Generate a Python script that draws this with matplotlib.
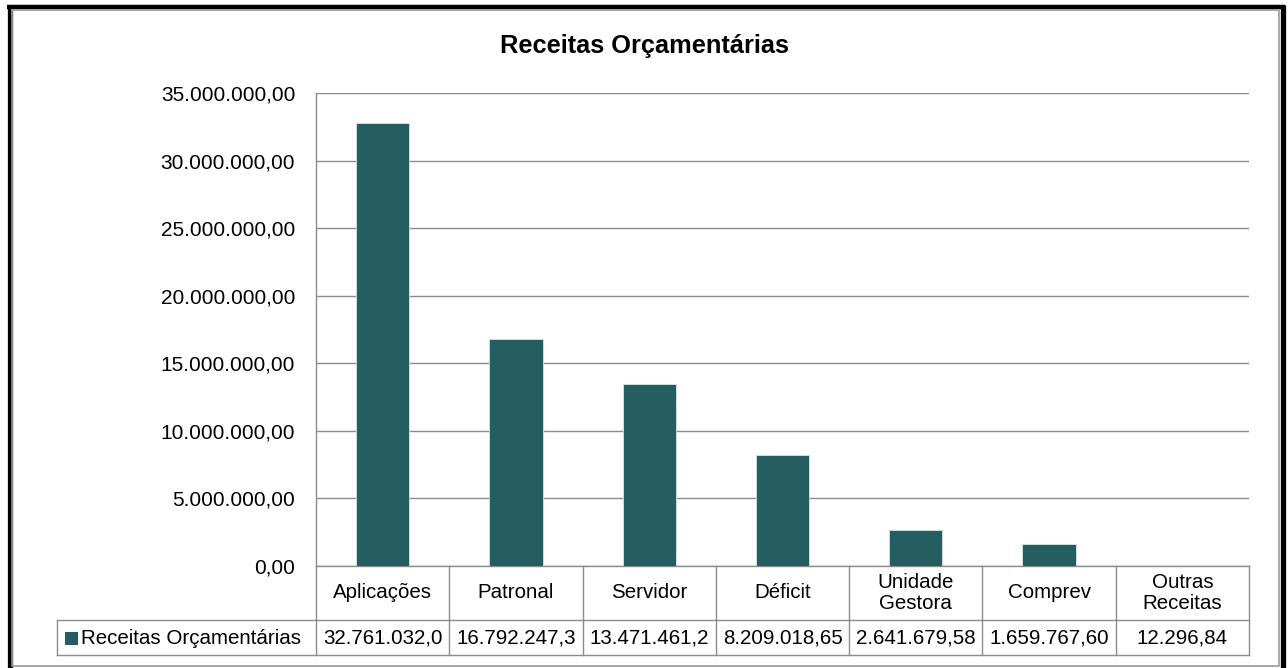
import matplotlib
matplotlib.use("Agg")
import matplotlib.pyplot as plt
from matplotlib.patches import Rectangle
from matplotlib.lines import Line2D
from matplotlib.ticker import FuncFormatter
import matplotlib.transforms as mtransforms

plt.rcParams['font.family'] = ['Liberation Sans', 'DejaVu Sans']

title = "Receitas Orçamentárias"
series_name = "Receitas Orçamentárias"
categories = ["Aplicações", "Patronal", "Servidor", "Déficit", "Unidade\nGestora", "Comprev", "Outras\nReceitas"]
values = [32761032.0, 16792247.3, 13471461.2, 8209018.65, 2641679.58, 1659767.60, 12296.84]
value_labels = ["32.761.032,0", "16.792.247,3", "13.471.461,2", "8.209.018,65", "2.641.679,58", "1.659.767,60", "12.296,84"]
yticks = [0, 5e6, 10e6, 15e6, 20e6, 25e6, 30e6, 35e6]

BAR = '#245E60'
GRID = '#8C8C8C'
W, H = 1288, 668

fig = plt.figure(figsize=(W / 100, H / 100), dpi=100)

def fx(px):
    return px / W

def fy(py):
    return 1 - py / H

# outer frame
fig.patches.append(Rectangle((0, 0), 1, 1, transform=fig.transFigure, facecolor='white', edgecolor='none', zorder=-10))
fig.add_artist(Line2D([fx(9.5), fx(9.5)], [fy(5), fy(668)], color='black', lw=3.8, solid_capstyle='butt'))
fig.add_artist(Line2D([fx(7), fx(1285)], [fy(7), fy(7)], color='black', lw=3.2, solid_capstyle='butt'))
fig.add_artist(Line2D([fx(1282.5), fx(1282.5)], [fy(5), fy(668)], color='black', lw=3.8, solid_capstyle='butt'))
# inner gray frame
fig.add_artist(Line2D([fx(12.5), fx(1278.5), fx(1278.5), fx(12.5), fx(12.5)],
                      [fy(9.5), fy(9.5), fy(665.5), fy(665.5), fy(9.5)], color='#9A9A9A', lw=1.2))

L, R, T, B = 316, 1249, 93, 566
ax = fig.add_axes([fx(L), fy(B), fx(R) - fx(L), fy(T) - fy(B)])
x = list(range(len(categories)))
ax.bar(x, values, width=0.4, color=BAR, edgecolor='#D6E6E8', linewidth=0.6, zorder=3)
ax.set_xlim(-0.5, len(categories) - 0.5)
ax.set_ylim(0, 35e6)
ax.set_yticks(yticks)

def brfmt(v, pos=None):
    s = f"{v:,.2f}"
    return s.replace(',', 'X').replace('.', ',').replace('X', '.')

ax.yaxis.set_major_formatter(FuncFormatter(brfmt))
ax.tick_params(axis='y', length=0, labelsize=15, pad=15, colors='black')
ax.set_xticks([])
ax.grid(axis='y', color=GRID, lw=1.0, zorder=0)
for s in ['top', 'right', 'bottom']:
    ax.spines[s].set_visible(False)
ax.spines['left'].set_color(GRID)
ax.spines['left'].set_linewidth(1.0)

fig.text(fx(645), fy(46), title, fontsize=18.3, fontweight='bold', ha='center', va='center')

# data table
ah = B - T
aw = R - L
def ay(py):
    return (B - py) / ah

trans = mtransforms.blended_transform_factory(ax.transData, ax.transAxes)
r1, r2 = ay(620), ay(655)
tk = dict(color=GRID, lw=1.0, clip_on=False, transform=ax.transAxes)
ax.add_line(Line2D([0, 1], [0, 0], **tk))
ax.add_line(Line2D([(57 - L) / aw, 1], [r1, r1], **tk))
ax.add_line(Line2D([(57 - L) / aw, 1], [r2, r2], **tk))
ax.add_line(Line2D([(57 - L) / aw, (57 - L) / aw], [r1, r2], **tk))
n = len(categories)
for i in range(n + 1):
    ax.add_line(Line2D([i - 0.5, i - 0.5], [0, r2], color=GRID, lw=1.0, clip_on=False, transform=trans))

for i, (c, v) in enumerate(zip(categories, value_labels)):
    ax.text(i, ay(593), c, transform=trans, ha='center', va='center', fontsize=14.8, linespacing=1.12)
    ax.text(i, ay(638), v, transform=trans, ha='center', va='center', fontsize=14.8)

ax.add_patch(Rectangle(((65 - L) / aw, ay(645)), 13 / aw, 13 / ah, transform=ax.transAxes,
                       facecolor=BAR, edgecolor='none', clip_on=False))
ax.text((81 - L) / aw, ay(638), series_name, transform=ax.transAxes, ha='left', va='center', fontsize=14.8)

fig.savefig('out.png', dpi=100)
